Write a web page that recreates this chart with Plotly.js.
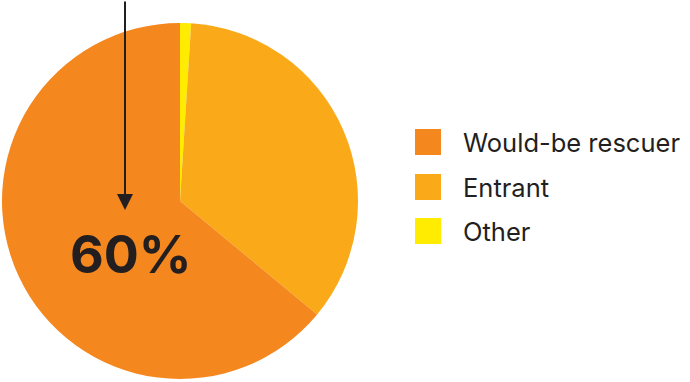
<!DOCTYPE html>
<html>
<head>
<meta charset="utf-8">
<script src="https://cdn.plot.ly/plotly-3.0.1.min.js"></script>
<style>html,body{margin:0;padding:0;background:#fff;}#chart{width:690px;height:382px;}</style>
</head>
<body>
<div id="chart"></div>
<script>
// Data
const categories = ["Would-be rescuer", "Entrant", "Other"];
const shares = [64, 35, 1];
const colors = ["#F5871F", "#FAAA19", "#FFEC00"];
const calloutText = "60%";

const W = 690, H = 382;
const px = x => x / W;
const py = y => 1 - y / H;

// slices drawn clockwise from 12 o'clock: Other, Entrant, Would-be rescuer
const order = [2, 1, 0];
const trace = {
  type: "pie",
  labels: order.map(i => categories[i]),
  values: order.map(i => shares[i]),
  sort: false,
  direction: "clockwise",
  rotation: 0,
  marker: { colors: order.map(i => colors[i]), line: { width: 0 } },
  textinfo: "none",
  hoverinfo: "label+percent",
  showlegend: false,
  domain: { x: [px(2), px(358)], y: [py(379), py(23)] }
};

const shapes = [];
const annotations = [];
// custom legend built from categories/colors
const legendTop = [129, 174, 218];
categories.forEach((c, i) => {
  shapes.push({
    type: "rect", xref: "paper", yref: "paper",
    x0: px(415), x1: px(441), y0: py(legendTop[i] + 26), y1: py(legendTop[i]),
    fillcolor: colors[i], line: { width: 0 }
  });
  annotations.push({
    xref: "paper", yref: "paper", x: px(461), y: py(legendTop[i] + 13),
    xanchor: "left", yanchor: "middle", showarrow: false,
    text: c, font: { family: "Inter, 'Noto Sans', sans-serif", size: 25.5, color: "#231f20" }
  });
});
// arrow
annotations.push({
  xref: "paper", yref: "paper", x: px(125), y: py(210),
  ax: 0, ay: -212, axref: "pixel", ayref: "pixel",
  showarrow: true, arrowhead: 2, arrowsize: 1.6, arrowwidth: 2, arrowcolor: "#231f20", text: ""
});
annotations.push({
  xref: "paper", yref: "paper", x: px(131), y: py(255),
  xanchor: "center", yanchor: "middle", showarrow: false,
  text: "<b>" + calloutText + "</b>",
  font: { family: "Inter, 'Noto Sans', sans-serif", size: 52, color: "#231f20" }
});

Plotly.newPlot("chart", [trace], {
  width: W, height: H,
  margin: { l: 0, r: 0, t: 0, b: 0 },
  paper_bgcolor: "#fff",
  showlegend: false,
  shapes: shapes,
  annotations: annotations
}, { displayModeBar: false, staticPlot: true });
</script>
</body>
</html>
